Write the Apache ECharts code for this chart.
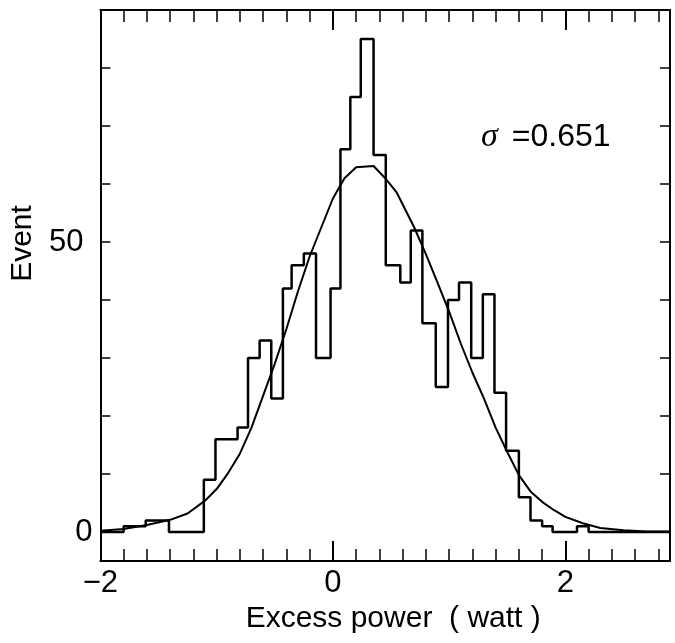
<!DOCTYPE html>
<html>
<head>
<meta charset="utf-8">
<script src="https://cdn.jsdelivr.net/npm/echarts@6/dist/echarts.min.js"></script>
<style>
  html, body { margin: 0; padding: 0; background: #fff; }
  #main { width: 675px; height: 643px; }
</style>
</head>
<body>
<div id="main"></div>
<script>
var chartDom = document.getElementById('main');
var myChart = echarts.init(chartDom);
var option;

// histogram bin edges (watt) and event counts per bin
let binEdges = [-2.0, -1.8, -1.61, -1.41, -1.11, -1.01, -0.82, -0.73, -0.63, -0.53,
  -0.43, -0.355, -0.25, -0.145, -0.02, 0.065, 0.15, 0.24, 0.35, 0.455,
  0.58, 0.67, 0.77, 0.885, 0.99, 1.085, 1.19, 1.29, 1.39, 1.49,
  1.6, 1.7, 1.8, 1.89, 2.1, 2.2, 2.9]
let binCounts = [0, 1, 2, 0, 9, 16, 18, 30, 33, 23,
  42, 46, 48, 30, 42, 66, 75, 85, 65, 46,
  43, 52, 36, 25, 40, 43, 30, 41, 24, 14,
  6, 2, 1, 0, 1, 0]

// fitted gaussian
let fitX = [-2.0, -1.8, -1.6, -1.4, -1.25, -1.1, -1.0, -0.9, -0.8, -0.7,
  -0.6, -0.5, -0.4, -0.3, -0.2, -0.1, 0.0, 0.1, 0.2, 0.35,
  0.45, 0.55, 0.7, 0.8, 0.9, 1.0, 1.1, 1.2, 1.3, 1.4,
  1.5, 1.6, 1.7, 1.8, 1.9, 2.0, 2.15, 2.3, 2.5, 2.7, 2.9]
let fitY = [0.2, 0.5, 1.2, 2.1, 3.2, 5.4, 7.4, 10.2, 13.5, 18.0,
  23.5, 29.0, 35.0, 41.5, 47.5, 52.5, 57.5, 61.0, 62.9, 63.1,
  61.0, 58.5, 52.5, 47.9, 43.0, 38.0, 32.5, 27.5, 23.0, 18.0,
  13.8, 9.8, 7.0, 5.2, 3.8, 2.6, 1.5, 0.7, 0.3, 0.1, 0.1]

let yTicks = [0, 10, 20, 30, 40, 50, 60, 70, 80]
let yLabels = [0, 50]
let sigmaText = '0.651'

let histData = []
for (var i = 0; i < binCounts.length; i++) {
  histData.push([binEdges[i], binCounts[i]])
}
histData.push([binEdges[binEdges.length - 1], binCounts[binCounts.length - 1]])

let fitData = fitX.map(function (x, i) { return [x, fitY[i]] })

const font = 'Liberation Sans'
const black = '#000'

let xAxisBase = {
  type: 'value',
  min: -2,
  max: 2.9,
  interval: 2,
  axisLine: { show: true, onZero: false, lineStyle: { color: black, width: 2 } },
  axisTick: { inside: true, length: 20, lineStyle: { color: black, width: 2 } },
  minorTick: { show: true, splitNumber: 10, length: 12, lineStyle: { color: black, width: 1.5 } },
  splitLine: { show: false },
  minorSplitLine: { show: false }
}

let yAxisBase = {
  type: 'value',
  min: -5,
  max: 90,
  axisLine: { show: true, onZero: false, lineStyle: { color: black, width: 2 } },
  axisTick: { inside: true, length: 10, customValues: yTicks, lineStyle: { color: black, width: 1.5 } },
  splitLine: { show: false }
}

option = {
  backgroundColor: '#fff',
  animation: false,
  grid: { left: 100, right: 5, top: 10, bottom: 82, containLabel: false },
  xAxis: [
    Object.assign({}, xAxisBase, {
      position: 'bottom',
      axisLabel: {
        showMaxLabel: false,
        fontFamily: font,
        fontSize: 31,
        color: black,
        margin: 7,
        formatter: function (v) {
          if (v % 2 !== 0) return ''
          return v < 0 ? '\u2212' + Math.abs(v) : String(v)
        }
      },
      name: 'Excess power  ( watt )',
      nameLocation: 'middle',
      nameGap: 38,
      nameTextStyle: { fontFamily: font, fontSize: 30, color: black, padding: [0, 0, 0, 16] }
    }),
    Object.assign({}, xAxisBase, {
      position: 'top',
      axisLabel: { show: false }
    })
  ],
  yAxis: [
    Object.assign({}, yAxisBase, {
      position: 'left',
      axisLabel: {
        customValues: yLabels,
        fontFamily: font,
        fontSize: 31,
        color: black,
        margin: 8,
        formatter: function (v) {
          return v === 50 ? '{f|50}' : '{z|' + v + '}'
        },
        rich: {
          f: { fontFamily: font, fontSize: 31, color: black, padding: [0, 9, 0, 0] },
          z: { fontFamily: font, fontSize: 31, color: black }
        }
      },
      name: 'Event',
      nameLocation: 'middle',
      nameGap: 58,
      nameTextStyle: { fontFamily: font, fontSize: 30, color: black, padding: [0, 0, 0, 84] }
    }),
    Object.assign({}, yAxisBase, {
      position: 'right',
      axisLabel: { show: false }
    })
  ],
  graphic: [
    {
      type: 'text',
      left: 481,
      top: 120,
      style: {
        text: '{s|\u03c3}{n|=' + sigmaText + '}',
        rich: {
          s: { fontFamily: 'Liberation Serif', fontStyle: 'italic', fontSize: 34, fill: black, padding: [0, 14, 0, 0] },
          n: { fontFamily: font, fontSize: 32, fill: black }
        }
      }
    }
  ],
  series: [
    {
      name: 'Events',
      type: 'line',
      data: histData,
      step: 'end',
      symbol: 'none',
      lineStyle: { color: black, width: 2.5 },
      xAxisIndex: 0,
      yAxisIndex: 0
    },
    {
      name: 'Fit',
      type: 'line',
      data: fitData,
      smooth: false,
      symbol: 'none',
      lineStyle: { color: black, width: 2 },
      xAxisIndex: 0,
      yAxisIndex: 0
    }
  ]
};

option && myChart.setOption(option);
</script>
</body>
</html>
